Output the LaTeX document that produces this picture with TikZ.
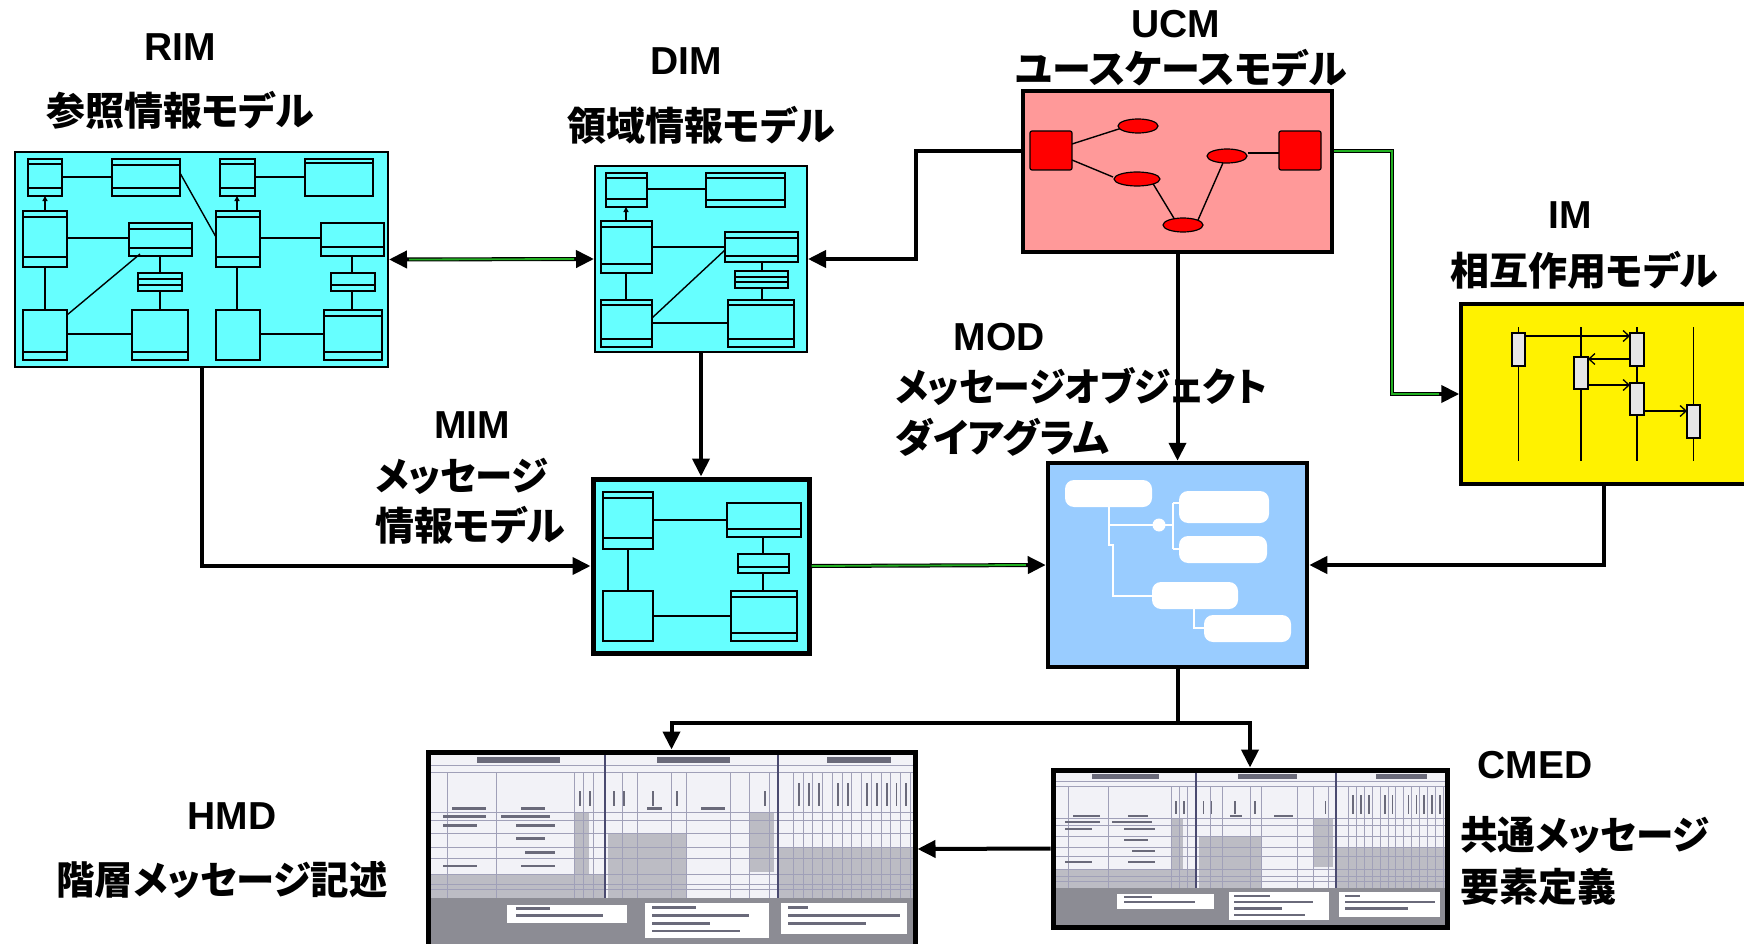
\documentclass[tikz,border=0pt]{standalone}
\usepackage{fontspec}
\setmainfont{Liberation Sans}
\newfontfamily\jp[RawFeature=+palt]{Noto Sans CJK JP}
\usetikzlibrary{arrows.meta}
\definecolor{cyanbox}{HTML}{66FFFF}
\definecolor{pinkbox}{HTML}{FF9999}
\definecolor{bluebox}{HTML}{99CCFF}
\definecolor{actgray}{HTML}{E6E6E6}
\definecolor{gcore}{HTML}{22B022}
\definecolor{sheetbg}{HTML}{F2F2F7}
\definecolor{sheetline}{HTML}{A0A0B8}
\definecolor{sheetdiv}{HTML}{4A4A70}
\definecolor{sheetgray}{HTML}{BCBCC4}
\definecolor{sheetdark}{HTML}{8C8C94}
\definecolor{sheettext}{HTML}{6A6A7A}
\tikzset{
  bigtip/.tip={Triangle[length=18pt,width=17pt]},
  conn/.style={line width=4pt,-{bigtip}},
  gcoreline/.style={line width=1.8pt,draw=gcore},
  boxnode/.style={rectangle,inner sep=0pt,draw=black},
  cl/.style={line width=1.4pt,draw=black},
  lab/.style={font=\fontsize{39}{44}\selectfont\bfseries,inner sep=0pt,anchor=base},
  jlab/.style={font=\fontsize{39}{44}\selectfont\jp\bfseries,inner sep=0pt,anchor=base},
  jlabw/.style={jlab,anchor=base west},
  actorbox/.style={line width=1.2pt,draw=black,fill=red,rounded corners=2pt},
  ucase/.style={line width=1.2pt,draw=black,fill=red},
  actv/.style={line width=1.3pt,draw=black,fill=actgray},
  msg/.style={line width=1.3pt,-{Straight Barb[length=6pt,width=11pt]}},
  wrect/.style={fill=white,rounded corners=9pt},
  wline/.style={draw=white,line width=1.6pt},
  sline/.style={draw=sheetline,line width=0.8pt},
  sdiv/.style={draw=sheetdiv,line width=2pt}
}
\newcommand\klass[5]{\draw[cl] (#1,#2) rectangle (#3,#4);
  \foreach \q in {#5} {\draw[cl] (#1,\q) -- (#3,\q);}}
\newcommand\drawsheet[4]{%
\begin{scope}[shift={(#1,#2)},xscale=#3,yscale=#4]
  \fill[sheetbg] (0,0) rectangle (1,1);
  \fill[sheetgray] (0,0.63) rectangle (0.364,0.75);
  \fill[sheetgray] (0.30,0.31) rectangle (0.33,0.75);
  \fill[sheetgray] (0.37,0.42) rectangle (0.53,0.75);
  \fill[sheetgray] (0.66,0.31) rectangle (0.71,0.62);
  \fill[sheetgray] (0.719,0.49) rectangle (1,0.75);
  \foreach \p in {0.106,0.31,0.35,0.42,0.49,0.55,0.63,0.68,0.71}
    {\draw[sline] (0,\p) -- (1,\p);}
  \draw[sline] (0,0.07) -- (1,0.07);
  \foreach \p in {0.04,0.14,0.30,0.32,0.34,0.40,0.43,0.50,0.53,0.62,0.66,0.70}
    {\draw[sline] (\p,0.106) -- (\p,0.75);}
  \foreach \p in {0.75,0.77,0.79,0.81,0.83,0.85,0.87,0.89,0.91,0.93,0.95,0.97,0.99}
    {\draw[sline] (\p,0.106) -- (\p,0.75);}
  \foreach \p in {0.76,0.78,0.80,0.84,0.86,0.90,0.92,0.94,0.96,0.98}
    {\fill[sheettext] (\p,0.16) rectangle ++(0.004,0.12);}
  \foreach \p in {0.31,0.33,0.38,0.40,0.46,0.51,0.69}
    {\fill[sheettext] (\p,0.20) rectangle ++(0.004,0.08);}
  \fill[sheettext] (0.10,0.025) rectangle (0.27,0.055);
  \fill[sheettext] (0.47,0.025) rectangle (0.62,0.055);
  \fill[sheettext] (0.82,0.025) rectangle (0.95,0.055);
  \fill[sheettext] (0.05,0.285) rectangle (0.12,0.30);
  \fill[sheettext] (0.19,0.285) rectangle (0.24,0.30);
  \fill[sheettext] (0.45,0.285) rectangle (0.48,0.30);
  \fill[sheettext] (0.56,0.285) rectangle (0.61,0.30);
  \fill[sheettext] (0.03,0.325) rectangle (0.12,0.34);
  \fill[sheettext] (0.15,0.325) rectangle (0.25,0.34);
  \fill[sheettext] (0.03,0.37) rectangle (0.10,0.385);
  \fill[sheettext] (0.18,0.37) rectangle (0.26,0.385);
  \fill[sheettext] (0.18,0.44) rectangle (0.24,0.455);
  \fill[sheettext] (0.20,0.51) rectangle (0.26,0.525);
  \fill[sheettext] (0.03,0.58) rectangle (0.10,0.595);
  \fill[sheettext] (0.19,0.58) rectangle (0.26,0.595);
  \fill[sheetdark] (0,0.75) rectangle (1,1);
  \fill[white] (0.162,0.787) rectangle (0.408,0.883);
  \fill[white] (0.446,0.777) rectangle (0.70,0.957);
  \fill[white] (0.725,0.777) rectangle (0.983,0.936);
  \fill[sheettext] (0.18,0.80) rectangle (0.25,0.815);
  \fill[sheettext] (0.18,0.835) rectangle (0.36,0.85);
  \fill[sheettext] (0.46,0.795) rectangle (0.55,0.81);
  \fill[sheettext] (0.46,0.835) rectangle (0.66,0.85);
  \fill[sheettext] (0.46,0.875) rectangle (0.58,0.89);
  \fill[sheettext] (0.46,0.915) rectangle (0.64,0.93);
  \fill[sheettext] (0.74,0.795) rectangle (0.78,0.81);
  \fill[sheettext] (0.74,0.835) rectangle (0.97,0.85);
  \fill[sheettext] (0.74,0.875) rectangle (0.90,0.89);
  \draw[sdiv] (0.364,0) -- (0.364,0.75);
  \draw[sdiv] (0.719,0) -- (0.719,0.75);
\end{scope}}
\begin{document}
\begin{tikzpicture}[x=1pt,y=-1pt,line join=miter]
\useasboundingbox (0,0) rectangle (1744,944);
\fill[white] (0,0) rectangle (1744,944);

% ---------- boxes ----------
\node[boxnode,fill=cyanbox,line width=2pt,minimum width=373pt,minimum height=215pt] (rim) at (201.5,259.5) {};
\node[boxnode,fill=cyanbox,line width=2pt,minimum width=212pt,minimum height=186pt] (dim) at (701,259) {};
\node[boxnode,fill=pinkbox,line width=4pt,minimum width=309pt,minimum height=161pt] (ucm) at (1177.5,171.5) {};
\node[boxnode,fill=yellow,line width=3.5pt,minimum width=286pt,minimum height=180pt] (im) at (1604,394) {};
\node[boxnode,fill=bluebox,line width=4.5pt,minimum width=259pt,minimum height=204pt] (mod) at (1177.5,565) {};
\node[boxnode,fill=cyanbox,line width=5pt,minimum width=216pt,minimum height=174pt] (mim) at (701,566) {};
\drawsheet{428}{752}{487}{194}
\node[boxnode,line width=5pt,minimum width=487pt,minimum height=194pt] (hmd) at (671.5,849) {};
\drawsheet{1053}{770}{394}{157}
\node[boxnode,line width=5pt,minimum width=394pt,minimum height=157pt] (cmed) at (1250,848.5) {};

% ---------- RIM interior ----------
\klass{28}{159}{62}{196}{164,188}
\klass{112}{159}{180}{196}{165,188}
\klass{220}{159}{255}{196}{164,188}
\klass{305}{159}{373}{196}{163}
\klass{23}{211}{67}{267}{217,257}
\klass{129}{223}{192}{256}{229,248}
\klass{216}{211}{260}{267}{217,257}
\klass{321}{223}{384}{256}{247}
\klass{138}{273}{182}{291}{279,285}
\klass{331}{273}{375}{291}{285}
\klass{23}{310}{67}{360}{352}
\klass{132}{310}{188}{360}{352}
\draw[cl] (216,310) rectangle (260,360);
\klass{324}{310}{382}{360}{316,352}
\draw[cl] (62,177) -- (112,177);
\draw[cl] (255,177) -- (305,177);
\draw[cl] (180,173) -- (216,237);
\draw[cl,-{Triangle[length=5pt,width=5pt]}] (45,211) -- (45,196);
\draw[cl,-{Triangle[length=5pt,width=5pt]}] (237,211) -- (237,196);
\draw[cl] (67,238) -- (129,238);
\draw[cl] (260,238) -- (321,238);
\draw[cl] (45,267) -- (45,310);
\draw[cl] (237,267) -- (237,310);
\draw[cl] (160,256) -- (160,273);
\draw[cl] (160,291) -- (160,310);
\draw[cl] (352,256) -- (352,273);
\draw[cl] (352,291) -- (352,310);
\draw[cl] (67,315) -- (140,254);
\draw[cl] (67,334) -- (132,334);
\draw[cl] (260,334) -- (324,334);

% ---------- DIM interior ----------
\klass{606}{173}{647}{207}{178,199}
\klass{706}{173}{785}{207}{178,200}
\klass{601}{221}{652}{273}{227,264}
\klass{725}{232}{798}{262}{238,256}
\klass{735}{271}{788}{288}{277,282}
\klass{601}{300}{652}{347}{305,339}
\klass{728}{300}{794}{347}{305,339}
\draw[cl] (647,189) -- (706,189);
\draw[cl,-{Triangle[length=5pt,width=5pt]}] (626,221) -- (626,207);
\draw[cl] (652,247) -- (725,247);
\draw[cl] (626,273) -- (626,300);
\draw[cl] (762,262) -- (762,271);
\draw[cl] (762,288) -- (762,300);
\draw[cl] (652,318) -- (725,250);
\draw[cl] (652,323) -- (728,323);

% ---------- MIM interior ----------
\klass{603}{492}{653}{549}{498,538}
\klass{727}{503}{801}{537}{529}
\klass{738}{554}{789}{573}{567}
\draw[cl] (603,591) rectangle (653,641);
\klass{731}{591}{797}{641}{597,633}
\draw[cl] (653,520) -- (727,520);
\draw[cl] (763,537) -- (763,554);
\draw[cl] (763,573) -- (763,591);
\draw[cl] (628,549) -- (628,591);
\draw[cl] (653,616) -- (731,616);

% ---------- UCM interior ----------
\draw[cl] (1072,144) -- (1125,127);
\draw[cl] (1072,160) -- (1113,177);
\draw[cl] (1152,182) -- (1175,220);
\draw[cl] (1198,220) -- (1226,156);
\draw[cl] (1248,153) -- (1279,153);
\draw[actorbox] (1030,131) rectangle (1072,170);
\draw[actorbox] (1279,131) rectangle (1321,170);
\draw[ucase] (1138,126) ellipse [x radius=20,y radius=7];
\draw[ucase] (1137,179) ellipse [x radius=23,y radius=7];
\draw[ucase] (1183,225) ellipse [x radius=20,y radius=7];
\draw[ucase] (1227,156) ellipse [x radius=20,y radius=7];

% ---------- IM interior ----------
\foreach \p in {1518.5,1581,1637,1693.5} {\draw[line width=1.3pt] (\p,327) -- (\p,461);}
\draw[actv] (1512,333) rectangle (1525,366);
\draw[actv] (1574,357) rectangle (1588,389);
\draw[actv] (1630,333) rectangle (1644,366);
\draw[actv] (1630,383) rectangle (1644,415);
\draw[actv] (1687,405) rectangle (1700,438);
\draw[msg] (1525,336) -- (1630,336);
\draw[msg] (1630,359) -- (1588,359);
\draw[msg] (1588,385) -- (1630,385);
\draw[msg] (1644,411) -- (1687,411);

% ---------- MOD interior ----------
\draw[wline] (1109,507) -- (1109,545) -- (1113,545) -- (1113,596) -- (1152,596);
\draw[wline] (1109,525) -- (1173,525);
\draw[wline] (1173,503) -- (1173,549);
\draw[wline] (1173,503) -- (1180,503);
\draw[wline] (1173,549) -- (1180,549);
\draw[wline] (1194,609) -- (1194,628) -- (1205,628);
\fill[white] (1159,525) circle (6.5);
\fill[wrect] (1065,480) rectangle (1152,507);
\fill[wrect] (1179,491) rectangle (1269,523);
\fill[wrect] (1179,536) rectangle (1267,563);
\fill[wrect] (1152,582) rectangle (1238,609);
\fill[wrect] (1204,615) rectangle (1291,642);

% ---------- connectors ----------
\draw[line width=4pt,{bigtip}-{bigtip}] (rim.east) -- (dim.west);
\draw[gcoreline] ([xshift=20pt]rim.east) -- ([xshift=-20pt]dim.west);
\draw[conn] ([yshift=20.5pt]ucm.west) -| ([xshift=108pt]dim.east) -- (dim.east);
\draw[conn] ([yshift=20.5pt]ucm.east) -| ([xshift=-67pt]im.west) -- (im.west);
\draw[gcoreline] ([yshift=20.5pt]ucm.east) -| ([xshift=-67pt]im.west) -- ([xshift=-20pt]im.west);
\draw[conn] (ucm.south) -- (mod.north);
\draw[conn] (dim.south) -- (mim.north);
\draw[conn] (rim.south) |- (mim.west);
\draw[conn] (mim.east) -- (mod.west);
\draw[gcoreline] (mim.east) -- ([xshift=-20pt]mod.west);
\draw[conn] (im.south) |- (mod.east);
\coordinate (split) at ([yshift=-54pt]mod.south);
\draw[line width=4pt] (mod.south) -- (split);
\draw[conn] (split) -| (hmd.north);
\draw[conn] (split) -| (cmed.north);
\draw[conn] (cmed.west) -- (hmd.east);

% ---------- labels ----------
\node[lab] (trim) at (180,61) {RIM};
\node[jlab] (trimj) at (180,126) {参照情報モデル};
\node[lab] (tdim) at (686,75) {DIM};
\node[jlab] (tdimj) at (701,141) {領域情報モデル};
\node[lab] (tucm) at (1176,38) {UCM};
\node[jlab] (tucmj) at (1181,84) {ユースケースモデル};
\node[lab] (tim) at (1570,228) {IM};
\node[jlab] (timj) at (1584,285) {相互作用モデル};
\node[lab] (tmod) at (999,350) {MOD};
\node[jlabw] (tmodj1) at (895,401) {\scalebox{0.945}[1]{メッセージオブジェクト}};
\node[jlabw] (tmodj2) at (895,452) {ダイアグラム};
\node[lab] (tmim) at (472,438) {MIM};
\node[jlabw] (tmimj1) at (375,490) {\scalebox{0.96}[1]{メッセージ}};
\node[jlabw] (tmimj2) at (375,540) {情報モデル};
\node[lab] (thmd) at (232,829) {HMD};
\node[jlab] (thmdj) at (222,894) {\scalebox{0.985}[1]{階層メッセージ記述}};
\node[lab] (tcmed) at (1535,778) {CMED};
\node[jlabw] (tcmedj1) at (1460,849) {\scalebox{0.965}[1]{共通メッセージ}};
\node[jlabw] (tcmedj2) at (1460,901) {要素定義};
\end{tikzpicture}
\end{document}
